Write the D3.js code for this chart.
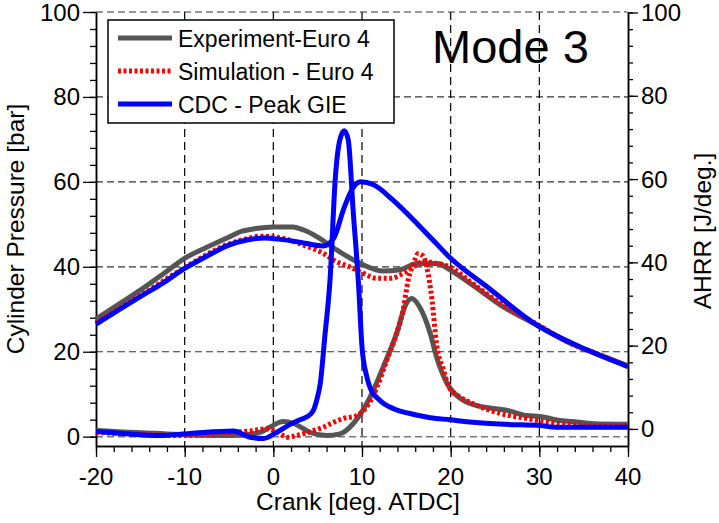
<!DOCTYPE html>
<html><head><meta charset="utf-8">
<script src="https://cdn.jsdelivr.net/npm/d3@7"></script>
<style>
html,body{margin:0;padding:0;background:#fff;}
svg{display:block;font-family:"Liberation Sans",Arial,sans-serif;}
</style></head>
<body><svg id="c" width="719" height="523"></svg>
<script>
// ---- data ----
const seriesNames = ["Experiment-Euro 4", "Simulation - Euro 4", "CDC - Peak GIE"];
const xTicks = [-20, -10, 0, 10, 20, 30, 40];
const yLeftTicks = [0, 20, 40, 60, 80, 100];
const yRightTicks = [0, 20, 40, 60, 80, 100];
const titleText = "Mode 3";

// Cylinder pressure [bar] (left axis)
const pExpCrank = [-20,-17.5,-15,-12.5,-10,-7.5,-5,-3.8,-2,0,2.2,3.5,4.9,7.2,9.8,12.4,14.3,16.2,18.5,19.9,22.2,25.9,29.7,33.5,36.5,40];
const pExp      = [27.7,31.1,34.5,38.2,42.0,44.6,47.0,48.2,49.0,49.4,49.4,48.6,47.1,43.9,40.8,39.0,39.3,40.8,40.8,39.3,36.1,30.6,26.3,22.0,19.5,16.7];
const pSimCrank = [-20,-15,-10,-5,-3,-1.5,1.1,3.4,5.6,7.1,8.6,10.1,11.7,13.2,14.7,15.8,16.9,18.4,19.9,22.2,25.9,29.7,33.5,36.5,40];
const pSim      = [26.9,33.2,39.8,45.4,46.6,47.2,46.7,45.1,43.2,41.2,40.0,38.5,37.3,37.3,38.5,40.0,41.2,40.8,40.0,36.5,31.0,26.5,22.0,19.5,16.5];
const pCdcCrank = [-20,-15,-12.5,-10,-7.5,-5,-3,-1,1,3,5.6,6.8,7.9,8.65,9.8,11.3,13.5,16.2,18,20,24.1,29.7,35.4,40];
const pCdc      = [26.5,33.0,36.1,39.6,42.5,45.1,46.3,46.8,46.4,45.8,44.9,46.7,53.4,57.3,60.0,59.3,55.7,50.2,46.3,42.0,35.3,26.3,20.4,16.5];

// AHRR [J/deg.] (right axis)
const hExpCrank = [-20,-12,-4.5,-1.5,-0.4,1.1,2.3,3.4,4.1,6.0,7.5,9.0,10.9,12.4,13.9,15.0,15.6,16.5,17.7,18.4,19.6,21.1,22.2,24.8,26.3,28.6,30.1,32.3,33.8,36.1,40];
const hExp      = [-0.4,-1.2,-1.6,-0.8,0.4,1.8,1.3,0.05,-0.8,-1.6,-1.2,1.25,7.6,14.9,22.9,30.1,31.3,29.3,22.9,17.3,10.9,7.3,6.1,4.9,4.5,3.2,3.0,2.0,1.8,1.25,1.1];
const hSimCrank = [-20,-9.8,-4.5,-2.3,-0.75,0.4,1.6,2.6,4.5,5.6,6.8,7.9,9.4,10.5,11.7,12.8,13.9,14.7,15.2,15.8,16.35,16.9,17.3,17.9,18.4,19.2,19.9,21.1,22.9,25.6,28.6,32.3,36.1,40];
const hSim      = [-0.8,-1.6,-0.8,-0.4,0.05,-0.8,-2.0,-1.6,-0.4,0.4,1.6,2.5,3.2,5.2,10.1,16.5,22.9,29.3,35.7,39.7,42.1,41.5,38.9,30.9,20.5,14.1,9.7,7.6,5.7,3.7,2.5,1.25,0.8,0.7];
const hCdcCrank = [-20,-17,-13,-9.4,-4.5,-2.6,-1.1,0.4,1.9,3.0,3.8,4.5,4.9,5.3,5.8,6.4,7.0,7.5,8.0,8.45,9.0,9.6,10.0,10.5,10.9,12.0,13.5,15.4,17.7,19.9,22.5,26.3,30.1,32,40];
const hCdc      = [-0.6,-1.1,-1.6,-1.1,-0.5,-2.0,-2.3,-0.8,1.1,2.2,2.9,4.4,7,11,22,36,60.5,69.4,71.6,69.4,52.5,35,19.7,12.9,10.0,6.9,4.9,3.7,2.7,2.2,1.6,1.1,0.8,0.4,0.4];

// ---- chart ----
const svg = d3.select("#c");
const x = d3.scaleLinear().domain([-20, 40]).range([96, 628]);
const yL = d3.scaleLinear().domain([-2.2, 100]).range([446, 12]);
const yR = d3.scaleLinear().domain([-4.1, 100]).range([446, 12.5]);
const font = '"Liberation Sans",Arial,sans-serif';

// grid
const g = svg.append("g");
g.selectAll("line.hg").data(yLeftTicks.filter(d => d > 0)).join("line")
  .attr("x1", x(-20)).attr("x2", x(40)).attr("y1", d => yL(d)).attr("y2", d => yL(d))
  .attr("stroke", "#333").attr("stroke-width", 1.2).attr("stroke-dasharray", "7,4");
g.append("line").attr("x1", x(-20)).attr("x2", x(40)).attr("y1", yL(0)).attr("y2", yL(0))
  .attr("stroke", "#777").attr("stroke-width", 1.5).attr("stroke-dasharray", "7,4");
g.selectAll("line.vg").data(xTicks.filter(d => d > -20 && d < 40)).join("line")
  .attr("x1", d => x(d)).attr("x2", d => x(d)).attr("y1", yL(100)).attr("y2", 446)
  .attr("stroke", "#000").attr("stroke-width", 1.2).attr("stroke-dasharray", "8,5");

// axes
function styleAxis(sel) {
  sel.selectAll("path").attr("stroke", "#000").attr("stroke-width", 1.5);
  sel.selectAll("line").attr("stroke", "#000").attr("stroke-width", 1.3);
  sel.selectAll("text").remove();
}
const leftMinor = d3.range(0, 101, 4);
const rightMinor = d3.range(0, 101, 4);
const xMinor = d3.range(-20, 41, 2);
svg.append("g").attr("transform", "translate(96,0)")
  .call(d3.axisLeft(yL).tickValues(leftMinor).tickSize(6).tickSizeOuter(0)).call(styleAxis);
svg.append("g").attr("transform", "translate(96,0)")
  .call(d3.axisLeft(yL).tickValues(yLeftTicks).tickSize(13).tickSizeOuter(0)).call(styleAxis);
svg.append("g").attr("transform", "translate(628,0)")
  .call(d3.axisRight(yR).tickValues(rightMinor).tickSize(5).tickSizeOuter(0)).call(styleAxis);
svg.append("g").attr("transform", "translate(628,0)")
  .call(d3.axisRight(yR).tickValues(yRightTicks).tickSize(10).tickSizeOuter(0)).call(styleAxis);
svg.append("g").attr("transform", "translate(0,446)")
  .call(d3.axisBottom(x).tickValues(xMinor).tickSize(6).tickSizeOuter(0)).call(styleAxis);
svg.append("g").attr("transform", "translate(0,446)")
  .call(d3.axisBottom(x).tickValues(xTicks).tickSize(11).tickSizeOuter(0)).call(styleAxis);

// tick labels
svg.append("g").selectAll("text").data(yLeftTicks).join("text")
  .attr("x", 80).attr("y", d => yL(d) + 8.5).attr("text-anchor", "end")
  .attr("font-size", 24).attr("font-family", font).text(d => d);
svg.append("g").selectAll("text").data(yRightTicks).join("text")
  .attr("x", 641).attr("y", d => yR(d) + 8.5).attr("text-anchor", "start")
  .attr("font-size", 24).attr("font-family", font).text(d => d);
svg.append("g").selectAll("text").data(xTicks).join("text")
  .attr("x", d => x(d)).attr("y", 485).attr("text-anchor", "middle")
  .attr("font-size", 24).attr("font-family", font).text(d => d);

// axis titles
svg.append("text").attr("x", 358).attr("y", 510).attr("text-anchor", "middle")
  .attr("font-size", 24.5).attr("font-family", font).text("Crank [deg. ATDC]");
svg.append("text").attr("transform", "translate(24,229) rotate(-90)").attr("text-anchor", "middle")
  .attr("font-size", 24.5).attr("font-family", font).text("Cylinder Pressure [bar]");
svg.append("text").attr("transform", "translate(711,231) rotate(-90)").attr("text-anchor", "middle")
  .attr("font-size", 24.5).attr("font-family", font).text("AHRR [J/deg.]");

// title
svg.append("text").attr("x", 432).attr("y", 63).attr("font-size", 47)
  .attr("font-family", font).text(titleText);

// curves
const styles = [
  {color: "#555555", dash: null},
  {color: "#ff0000", dash: "3,2.5"},
  {color: "#0000ff", dash: null}
];
function mk(xs, ys) { return xs.map((c, i) => [c, ys[i]]); }
const lineL = d3.line().x(d => x(d[0])).y(d => yL(d[1])).curve(d3.curveMonotoneX);
const lineR = d3.line().x(d => x(d[0])).y(d => yR(d[1])).curve(d3.curveMonotoneX);
const curves = [
  {s: 0, fn: lineL, data: mk(pExpCrank, pExp)},
  {s: 0, fn: lineR, data: mk(hExpCrank, hExp)},
  {s: 1, fn: lineL, data: mk(pSimCrank, pSim)},
  {s: 1, fn: lineR, data: mk(hSimCrank, hSim)},
  {s: 2, fn: lineL, data: mk(pCdcCrank, pCdc)},
  {s: 2, fn: lineR, data: mk(hCdcCrank, hCdc)}
];
curves.forEach(c => {
  svg.append("path").attr("d", c.fn(c.data)).attr("fill", "none")
    .attr("stroke", styles[c.s].color).attr("stroke-width", 5)
    .attr("stroke-linejoin", "round")
    .attr("stroke-dasharray", styles[c.s].dash);
});

// legend
const lg = svg.append("g");
lg.append("rect").attr("x", 108).attr("y", 20).attr("width", 286).attr("height", 103)
  .attr("fill", "#fff").attr("stroke", "#000").attr("stroke-width", 1.5);
const rowsY = [38, 71, 104];
seriesNames.forEach((n, i) => {
  lg.append("line").attr("x1", 118).attr("x2", 172).attr("y1", rowsY[i]).attr("y2", rowsY[i])
    .attr("stroke", styles[i].color).attr("stroke-width", 5).attr("stroke-dasharray", styles[i].dash);
  lg.append("text").attr("x", 178).attr("y", rowsY[i] + 9).attr("font-size", 23)
    .attr("font-family", font).text(n);
});
</script></body></html>
